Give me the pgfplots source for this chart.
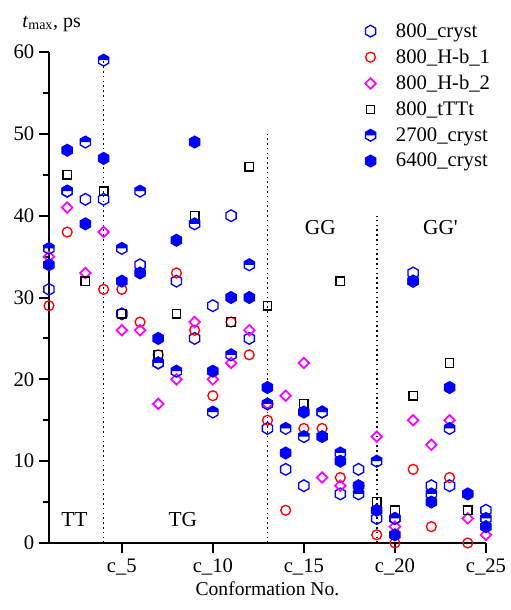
\documentclass[border=0pt]{standalone}
\usepackage{fontspec}
\setmainfont{Liberation Serif}
\usepackage{pgfplots}
\pgfplotsset{compat=1.18}
\definecolor{mag}{RGB}{255,0,255}
\definecolor{bl}{RGB}{0,0,255}
\definecolor{rd}{RGB}{255,0,0}
\pgfdeclareplotmark{hexo}{%
  \pgfpathmoveto{\pgfpointpolar{90}{\pgfplotmarksize}}%
  \pgfpathlineto{\pgfpointpolar{150}{\pgfplotmarksize}}%
  \pgfpathlineto{\pgfpointpolar{210}{\pgfplotmarksize}}%
  \pgfpathlineto{\pgfpointpolar{270}{\pgfplotmarksize}}%
  \pgfpathlineto{\pgfpointpolar{330}{\pgfplotmarksize}}%
  \pgfpathlineto{\pgfpointpolar{30}{\pgfplotmarksize}}%
  \pgfpathclose\pgfusepathqstroke}
\pgfdeclareplotmark{hexf}{%
  \pgfpathmoveto{\pgfpointpolar{90}{\pgfplotmarksize}}%
  \pgfpathlineto{\pgfpointpolar{150}{\pgfplotmarksize}}%
  \pgfpathlineto{\pgfpointpolar{210}{\pgfplotmarksize}}%
  \pgfpathlineto{\pgfpointpolar{270}{\pgfplotmarksize}}%
  \pgfpathlineto{\pgfpointpolar{330}{\pgfplotmarksize}}%
  \pgfpathlineto{\pgfpointpolar{30}{\pgfplotmarksize}}%
  \pgfpathclose\pgfusepathqfillstroke}
\pgfdeclareplotmark{hexh}{%
  \pgfpathmoveto{\pgfpoint{0.866\pgfplotmarksize}{0pt}}%
  \pgfpathlineto{\pgfpointpolar{30}{\pgfplotmarksize}}%
  \pgfpathlineto{\pgfpointpolar{90}{\pgfplotmarksize}}%
  \pgfpathlineto{\pgfpointpolar{150}{\pgfplotmarksize}}%
  \pgfpathlineto{\pgfpoint{-0.866\pgfplotmarksize}{0pt}}%
  \pgfpathclose\pgfusepathqfill
  \pgfpathmoveto{\pgfpointpolar{90}{\pgfplotmarksize}}%
  \pgfpathlineto{\pgfpointpolar{150}{\pgfplotmarksize}}%
  \pgfpathlineto{\pgfpointpolar{210}{\pgfplotmarksize}}%
  \pgfpathlineto{\pgfpointpolar{270}{\pgfplotmarksize}}%
  \pgfpathlineto{\pgfpointpolar{330}{\pgfplotmarksize}}%
  \pgfpathlineto{\pgfpointpolar{30}{\pgfplotmarksize}}%
  \pgfpathclose\pgfusepathqstroke}
\begin{document}
\begin{tikzpicture}
\begin{axis}[
  scale only axis,
  width=327.75pt, height=368.25pt,
  xmin=1, xmax=25, ymin=0, ymax=60,
  axis x line=bottom, axis y line=left,
  axis line style={-, line width=1.5pt},
  every tick/.style={line width=1.5pt, black},
  tick align=outside,
  major tick length=7.5pt, minor tick length=4.5pt,
  xtick={5,10,15,20,25},
  xticklabels={c\_5,c\_10,c\_15,c\_20,c\_25},
  ytick={0,10,20,30,40,50,60},
  minor ytick={5,15,25,35,45,55},
  /pgf/number format/assume math mode=true,
  tick label style={font=\fontsize{15.5}{17}\selectfont},
  xticklabel style={yshift=-1pt},
  xlabel={Conformation No.},
  xlabel style={font=\fontsize{14.7}{17}\selectfont, yshift=2pt},
  clip=false,
  legend style={draw=none, fill=none, at={(0.70,1.070)}, anchor=north west,
     font=\fontsize{15.5}{17}\selectfont, row sep=3.5pt},
  legend cell align=left,
  legend image code/.code={\path[draw=none, fill=none] (0cm,0cm) -- (0.9cm,0cm); \draw[mark repeat=2,mark phase=2,#1] plot coordinates {(0cm,0cm) (0.3cm,0cm) (0.6cm,0cm)};},
]
\path (axis cs:-1.691,-8.188) rectangle (axis cs:26.206,66.36);
\node[anchor=base, font=\fontsize{15}{17}\selectfont] at ([xshift=2pt, yshift=18.75pt]rel axis cs:0,1) {\textit{t}\textsubscript{max}, ps};
\draw[line width=1.2pt, dash pattern=on 1.2pt off 2.4pt] (axis cs:4,0) -- (axis cs:4,59.6);
\draw[line width=1.2pt, dash pattern=on 1.2pt off 2.4pt] (axis cs:13,0) -- (axis cs:13,50);
\draw[line width=1.2pt, dash pattern=on 1.2pt off 2.4pt] (axis cs:19,0) -- (axis cs:19,40);
\node[font=\fontsize{16}{18}\selectfont] at (axis cs:2.4,2.9) {TT};
\node[font=\fontsize{16}{18}\selectfont] at (axis cs:8.35,2.9) {TG};
\node[font=\fontsize{16}{18}\selectfont] at (axis cs:15.9,38.6) {GG};
\node[font=\fontsize{16}{18}\selectfont] at (axis cs:22.5,38.6) {GG\textquotesingle};
\addplot[only marks, mark=hexo, mark size=4.4pt, mark options={draw=bl, line width=1pt}] coordinates {
(1,31)(2,43)(3,42)(4,42)(5,28)(6,34)(7,22)(8,32)(9,25)(10,29)(11,40)(12,25)(13,14)(14,9)(15,7)(16,16)(17,6)(18,9)(19,3)(20,3)(21,33)(22,7)(23,7)(25,4)};
\addlegendentry{800\_cryst}
\addplot[only marks, mark=o, mark size=3.7pt, mark options={draw=rd, line width=1pt}] coordinates {
(1,29)(2,38)(4,31)(5,31)(6,27)(7,23)(8,33)(9,26)(10,18)(11,27)(12,23)(13,15)(14,4)(15,14)(16,14)(17,8)(19,1)(20,0)(21,9)(22,2)(23,8)(24,0)};
\addlegendentry{800\_H-b\_1}
\addplot[only marks, mark=square, mark size=2.8pt, mark options={draw=mag, line width=1.3pt, rotate=45}] coordinates {
(1,35)(2,41)(3,33)(4,38)(5,26)(6,26)(7,17)(8,20)(9,27)(10,20)(11,22)(12,26)(13,17)(14,18)(15,22)(16,8)(17,7)(18,7)(19,13)(20,2)(21,15)(22,12)(23,15)(24,3)(25,1)};
\addlegendentry{800\_H-b\_2}
\addplot[only marks, mark=square, mark size=3.2pt, mark options={draw=black, line width=1pt}] coordinates {
(2,45)(3,32)(4,43)(5,28)(7,23)(8,28)(9,40)(11,27)(12,46)(13,29)(15,17)(17,32)(19,5)(20,4)(21,18)(23,22)(24,4)};
\addlegendentry{800\_tTTt}
\addplot[only marks, mark=hexh, mark size=4.4pt, mark options={draw=bl, fill=bl, line width=1pt}] coordinates {
(1,36)(2,43)(3,49)(4,59)(5,36)(6,43)(7,22)(8,21)(9,39)(10,16)(11,23)(12,34)(13,17)(14,14)(15,13)(16,16)(17,11)(18,6)(19,10)(20,3)(21,32)(22,6)(23,14)(25,3)};
\addlegendentry{2700\_cryst}
\addplot[only marks, mark=hexf, mark size=4.4pt, mark options={draw=bl, fill=bl, line width=1pt}] coordinates {
(1,34)(2,48)(3,39)(4,47)(5,32)(6,33)(7,25)(8,37)(9,49)(10,21)(11,30)(12,30)(13,19)(14,11)(15,16)(16,13)(17,10)(18,7)(19,4)(20,1)(21,32)(22,5)(23,19)(24,6)(25,2)};
\addlegendentry{6400\_cryst}
\end{axis}
\end{tikzpicture}
\end{document}
